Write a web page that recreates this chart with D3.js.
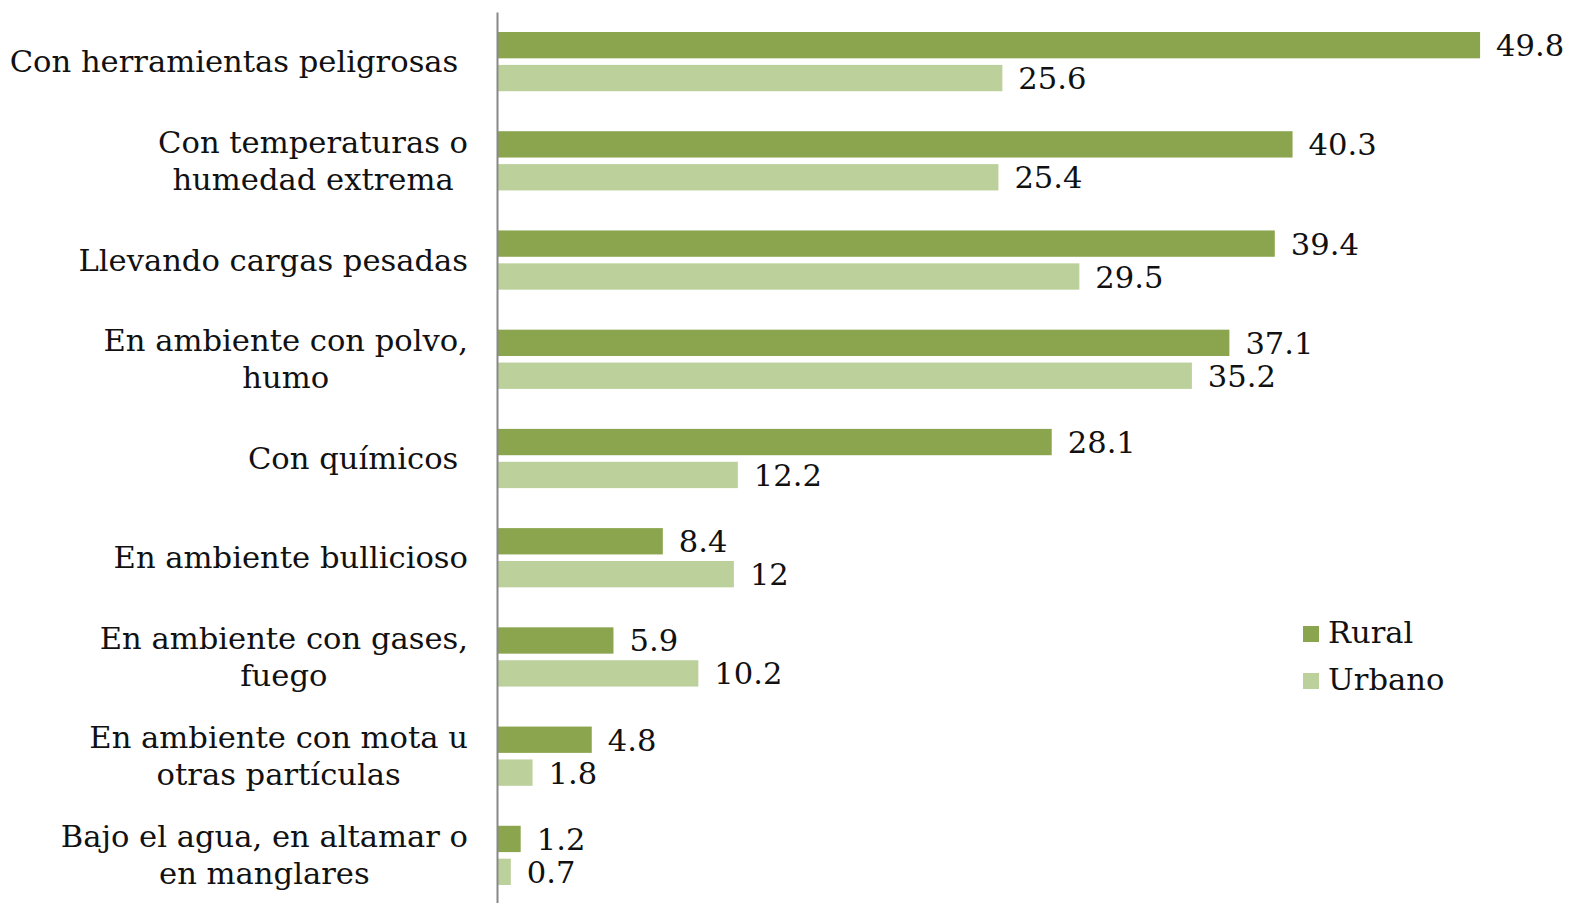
<!DOCTYPE html>
<html><head><meta charset="utf-8">
<script src="https://cdn.jsdelivr.net/npm/d3@7"></script>
<style>html,body{margin:0;padding:0;background:#fff;}svg{display:block;}</style>
</head><body>
<script>
const categories = [
  "Con herramientas peligrosas ",
  "Con temperaturas o\nhumedad extrema",
  "Llevando cargas pesadas",
  "En ambiente con polvo,\nhumo",
  "Con químicos ",
  "En ambiente bullicioso",
  "En ambiente con gases,\nfuego",
  "En ambiente con mota u\notras partículas",
  "Bajo el agua, en altamar o\nen manglares"
];
const rural  = [49.8, 40.3, 39.4, 37.1, 28.1, 8.4, 5.9, 4.8, 1.2];
const urbano = [25.6, 25.4, 29.5, 35.2, 12.2, 12, 10.2, 1.8, 0.7];
const seriesNames = ["Rural", "Urbano"];
const colors = ["#8ba54f", "#bbd09a"];

const W = 1574, H = 903;
const FONT = "'DejaVu Serif', serif";
const FS = 30.6;
const svg = d3.select("body").append("svg").attr("width", W).attr("height", H);

const x = d3.scaleLinear().domain([0, 54]).range([497, 1563]);
const y = d3.scaleBand().domain(categories).range([12, 905]);
const inner = d3.scaleBand().domain(seriesNames).range([20, y.bandwidth() - 20]).paddingInner(0.2);

const data = categories.map((c, i) => ({cat: c, vals: [rural[i], urbano[i]]}));

const g = svg.append("g");
data.forEach(d => {
  d.vals.forEach((v, k) => {
    const top = y(d.cat) + inner(seriesNames[k]);
    g.append("rect")
      .attr("x", x(0)).attr("y", top)
      .attr("width", x(v) - x(0)).attr("height", inner.bandwidth())
      .attr("fill", colors[k]);
    g.append("text")
      .attr("x", x(v) + 16).attr("y", top + inner.bandwidth() / 2 + 11)
      .attr("font-family", FONT).attr("font-size", FS).attr("fill", "#111")
      .text(v);
  });
});

// category labels
const lab = svg.append("g");
const rightEdge = 468;
categories.forEach(c => {
  const lines = c.split("\n");
  const cy = y(c) + y.bandwidth() / 2 + 10.5;
  const t = lab.append("text").attr("font-family", FONT).attr("font-size", FS).attr("fill", "#111")
    .attr("text-anchor", "middle").style("white-space", "pre");
  const tsp = lines.map((ln, j) => t.append("tspan").attr("y", cy + (j - (lines.length - 1) / 2) * 37).text(ln));
  const maxW = d3.max(tsp, s => s.node().getComputedTextLength());
  const cx = rightEdge - maxW / 2;
  tsp.forEach(s => s.attr("x", cx));
});

// axis line
svg.append("g").attr("transform", `translate(${x(0)},0)`)
  .call(d3.axisLeft(y).tickSize(0).tickFormat(""))
  .call(a => a.select(".domain").attr("stroke", "#888").attr("stroke-width", 2));

// legend
const leg = svg.append("g");
seriesNames.forEach((s, k) => {
  leg.append("rect").attr("x", 1303).attr("y", 626 + k * 47).attr("width", 16).attr("height", 16).attr("fill", colors[k]);
  leg.append("text").attr("x", 1328).attr("y", 643 + k * 47)
    .attr("font-family", FONT).attr("font-size", FS).attr("fill", "#111").text(s);
});
</script>
</body></html>
